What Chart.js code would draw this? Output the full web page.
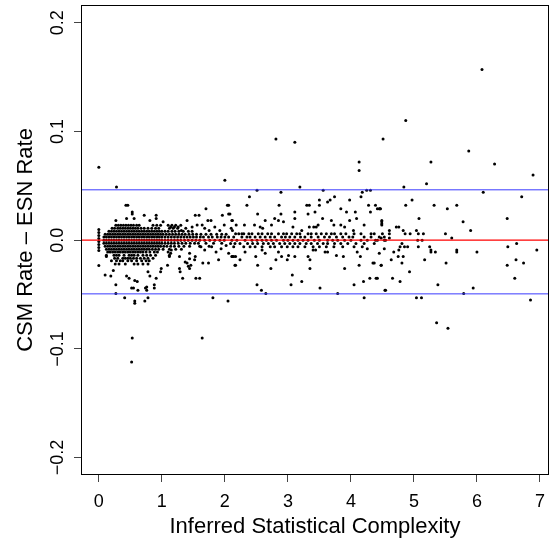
<!DOCTYPE html>
<html>
<head>
<meta charset="utf-8">
<script src="https://cdn.jsdelivr.net/npm/chart.js@4.4.0/dist/chart.umd.min.js"></script>
<style>
html, body { margin: 0; padding: 0; background: #fff; }
</style>
</head>
<body>
<canvas id="scatter" width="554" height="544"></canvas>
<script>
// 軸の目盛り
var xTicks = [0, 1, 2, 3, 4, 5, 6, 7];
var xTickLabels = ["0", "1", "2", "3", "4", "5", "6", "7"];
var yTicks = [-0.2, -0.1, 0, 0.1, 0.2];
var yTickLabels = ["\u22120.2", "\u22120.1", "0.0", "0.1", "0.2"];

// 基準線 (赤 = 0, 青 = 上限/下限)
var centerLine = 0;
var upperLimit = 0.0463;
var lowerLimit = -0.0494;

// x = 0 の列
var zeroColumn = [
    [0, 0.067], [0, 0.0098], [0, 0.0071], [0, 0.0043], [0, 0.0015], [0, -0.0012],
    [0, -0.0040], [0, -0.0067], [0, -0.0095], [0, -0.0233]
];

// 密集部分 (行ごと: y, xの並び)
var clusterRows = [
    [0.0138, [0.27, 0.31, 0.35, 0.39, 0.43, 0.47, 0.51, 0.55, 0.60, 0.64, 0.86, 0.92, 0.98, 1.10, 1.16, 1.22, 1.30]],
    [0.0110, [0.21, 0.25, 0.30, 0.34, 0.38, 0.42, 0.46, 0.50, 0.54, 0.58, 0.62, 0.67, 0.72, 0.78, 0.84, 0.90, 0.95, 1.12, 1.18, 1.25, 1.38]],
    [0.0083, [0.16, 0.20, 0.24, 0.28, 0.32, 0.36, 0.40, 0.44, 0.48, 0.52, 0.56, 0.60, 0.64, 0.68, 0.72, 0.76, 0.80, 0.84, 0.88, 0.92, 0.96, 1.00, 1.05, 1.10, 1.16, 1.21, 1.27, 1.34, 1.42, 1.48]],
    [0.0055, [0.10, 0.14, 0.18, 0.22, 0.26, 0.30, 0.34, 0.38, 0.42, 0.46, 0.50, 0.54, 0.58, 0.62, 0.66, 0.70, 0.74, 0.78, 0.82, 0.86, 0.90, 0.94, 0.98, 1.02, 1.07, 1.12, 1.17, 1.22, 1.27, 1.32, 1.37, 1.43, 1.49, 1.55, 1.62, 1.70, 1.78, 1.87, 1.95, 2.02]],
    [0.0028, [0.08, 0.12, 0.16, 0.20, 0.24, 0.28, 0.32, 0.36, 0.40, 0.44, 0.48, 0.52, 0.56, 0.60, 0.64, 0.68, 0.72, 0.76, 0.80, 0.84, 0.88, 0.92, 0.96, 1.00, 1.05, 1.10, 1.15, 1.20, 1.25, 1.30, 1.35, 1.40, 1.45, 1.50, 1.55, 1.61, 1.66, 1.74, 1.80, 1.88, 1.94, 2.00]],
    [0.0000, [0.08, 0.12, 0.16, 0.20, 0.24, 0.28, 0.32, 0.36, 0.40, 0.44, 0.48, 0.52, 0.56, 0.60, 0.64, 0.68, 0.72, 0.76, 0.80, 0.84, 0.88, 0.92, 0.96, 1.00, 1.05, 1.10, 1.15, 1.20, 1.25, 1.30, 1.36, 1.42, 1.48, 1.54, 1.60, 1.68, 1.76, 1.84, 1.92, 1.99]],
    [-0.0028, [0.08, 0.12, 0.16, 0.20, 0.24, 0.28, 0.32, 0.36, 0.40, 0.44, 0.48, 0.52, 0.56, 0.60, 0.64, 0.68, 0.72, 0.76, 0.80, 0.84, 0.88, 0.92, 0.96, 1.00, 1.05, 1.10, 1.15, 1.20, 1.26, 1.32, 1.38, 1.45, 1.52, 1.58, 1.70, 1.82, 1.95]],
    [-0.0055, [0.10, 0.14, 0.18, 0.22, 0.26, 0.30, 0.34, 0.38, 0.42, 0.46, 0.50, 0.54, 0.58, 0.62, 0.66, 0.70, 0.74, 0.78, 0.82, 0.86, 0.90, 0.94, 0.98, 1.03, 1.08, 1.14, 1.20, 1.27, 1.35, 1.44, 1.60, 1.75]],
    [-0.0083, [0.12, 0.16, 0.20, 0.24, 0.28, 0.32, 0.36, 0.40, 0.44, 0.48, 0.52, 0.56, 0.60, 0.64, 0.68, 0.72, 0.76, 0.80, 0.85, 0.90, 0.95, 1.02, 1.12, 1.22, 1.31]],
    [-0.0110, [0.14, 0.18, 0.22, 0.26, 0.30, 0.34, 0.38, 0.42, 0.46, 0.50, 0.54, 0.58, 0.62, 0.66, 0.70, 0.75, 0.81, 0.88, 0.93, 1.10]],
    [-0.0138, [0.12, 0.24, 0.28, 0.32, 0.40, 0.48, 0.52, 0.56, 0.62, 0.70, 0.76, 0.82, 0.90, 1.12]],
    [-0.0166, [0.25, 0.30, 0.38, 0.42, 0.46, 0.50, 0.55, 0.60, 0.66, 0.72, 0.78, 0.86]],
    [-0.0190, [0.20, 0.28, 0.34, 0.38, 0.46, 0.52, 0.60, 0.68, 0.75, 0.80]],
    [-0.0220, [0.26, 0.32, 0.42, 0.56, 0.62, 0.70, 0.78]]
];

// 密集部分の周り (x < 2.2)
var clusterEdge = [
    [0.28, 0.049], [0.43, 0.032], [0.46, 0.032], [0.53, 0.026], [0.53, 0.024], [0.27, 0.018], [0.44, 0.020],
    [0.56, 0.020], [0.72, 0.023], [0.81, 0.018], [0.91, 0.023], [0.91, 0.020], [1.02, 0.017], [1.40, 0.018],
    [1.53, 0.023], [1.59, 0.023], [1.70, 0.029], [1.73, 0.018], [1.78, 0.018], [1.96, 0.023], [2.04, 0.032],
    [2.08, 0.024], [2.12, 0.018], [2.18, 0.014], [1.14, 0.012], [1.20, 0.012], [1.26, 0.012], [1.31, 0.009],
    [1.64, 0.014], [2.00, 0.055], [1.48, 0.012], [1.56, 0.014], [1.68, 0.011], [1.75, 0.009], [1.84, 0.012],
    [1.92, 0.009], [1.99, 0.014], [2.10, 0.011],
    [1.62, -0.006], [1.68, -0.009], [1.79, -0.006], [1.86, -0.011], [1.94, -0.008], [2.02, -0.005],
    [0.12, -0.015], [0.10, -0.032], [0.19, -0.033], [0.27, -0.041], [0.27, -0.049], [0.44, -0.033], [0.48, -0.035],
    [0.52, -0.044], [0.55, -0.044], [0.61, -0.038], [0.62, -0.046], [0.74, -0.044], [0.76, -0.046], [0.88, -0.041],
    [0.88, -0.044], [0.78, -0.029], [0.81, -0.033], [0.98, -0.029], [0.91, -0.035], [1.09, -0.023], [1.12, -0.015],
    [1.28, -0.026], [1.29, -0.029], [1.33, -0.035], [1.40, -0.021], [1.42, -0.024], [1.44, -0.026], [1.54, -0.035],
    [1.60, -0.035], [1.53, -0.015], [1.65, -0.021], [1.74, -0.021], [1.90, -0.018], [2.06, -0.012], [2.16, -0.023],
    [2.12, -0.015], [2.14, -0.015], [0.23, -0.028], [0.57, -0.037], [0.99, -0.026], [1.15, -0.009], [1.14, -0.012],
    [1.28, -0.015], [1.37, -0.020], [1.44, -0.017], [1.44, -0.012], [1.52, -0.018], [1.46, -0.023], [0.76, -0.043],
    [0.41, -0.053], [0.57, -0.058], [0.57, -0.056], [0.73, -0.056], [0.78, -0.053], [1.81, -0.053], [2.05, -0.056],
    [0.53, -0.090], [0.52, -0.112], [1.64, -0.090]
];

// 中間部分 (2 < x < 4.6)
var middleSpread = [
    [2.81, 0.093], [3.11, 0.090], [4.51, 0.093], [4.13, 0.072], [4.13, 0.064], [3.19, 0.049], [2.51, 0.046],
    [3.56, 0.046], [2.89, 0.044], [4.25, 0.046], [4.31, 0.046], [4.18, 0.044], [4.16, 0.040], [2.39, 0.040],
    [3.74, 0.040], [3.67, 0.037], [3.63, 0.035], [3.50, 0.037], [3.98, 0.037],
    [2.06, 0.032], [2.35, 0.032], [2.86, 0.032], [3.30, 0.032], [3.34, 0.032], [3.50, 0.032], [4.28, 0.032],
    [4.39, 0.032], [3.84, 0.029], [4.45, 0.029], [4.47, 0.029], [4.07, 0.026], [3.93, 0.026], [2.06, 0.024],
    [2.52, 0.024], [2.89, 0.024], [3.11, 0.026], [3.43, 0.026], [3.11, 0.020], [3.32, 0.024], [2.79, 0.020],
    [2.64, 0.018], [2.85, 0.018], [3.55, 0.020], [3.98, 0.018], [4.09, 0.020], [4.31, 0.026], [4.49, 0.018],
    [4.49, 0.015], [2.11, 0.018], [2.47, 0.014], [2.31, 0.014],
    [2.56, 0.012], [2.60, 0.011], [2.74, 0.014], [2.93, 0.017], [3.08, 0.012], [3.22, 0.009], [3.34, 0.012],
    [3.41, 0.012], [3.45, 0.012], [3.48, 0.014], [3.69, 0.018], [3.73, 0.014], [3.84, 0.014], [3.90, 0.012],
    [4.04, 0.009], [4.21, 0.014], [2.12, 0.009], [2.27, 0.006],
    [2.17, 0.006], [2.22, 0.006], [2.30, 0.006], [2.38, 0.006], [2.43, 0.006], [2.53, 0.006], [2.59, 0.006],
    [2.68, 0.006], [2.74, 0.006], [2.85, 0.006], [2.93, 0.006], [2.98, 0.006], [3.06, 0.006], [3.14, 0.006],
    [3.19, 0.006], [3.32, 0.006], [3.37, 0.006], [3.45, 0.006], [3.53, 0.006], [3.61, 0.006], [3.69, 0.006],
    [3.74, 0.006], [3.84, 0.006], [3.92, 0.006], [4.05, 0.006], [4.16, 0.006], [4.32, 0.006], [4.37, 0.006],
    [4.50, 0.006],
    [2.06, 0.003], [2.14, 0.003], [2.27, 0.003], [2.35, 0.003], [2.40, 0.003], [2.48, 0.003], [2.56, 0.003],
    [2.64, 0.003], [2.72, 0.003], [2.79, 0.003], [2.90, 0.003], [2.96, 0.003], [3.03, 0.003], [3.11, 0.003],
    [3.20, 0.003], [3.27, 0.003], [3.37, 0.003], [3.48, 0.003], [3.58, 0.003], [3.66, 0.003], [3.77, 0.003],
    [3.87, 0.003], [3.97, 0.003], [4.03, 0.003], [4.21, 0.003], [4.32, 0.003], [4.45, 0.003], [4.53, 0.003],
    [2.11, 0], [2.19, 0], [2.32, 0], [2.43, 0], [2.51, 0], [2.59, 0], [2.66, 0], [2.74, 0], [2.82, 0],
    [2.93, 0], [3.00, 0], [3.08, 0], [3.16, 0], [3.24, 0], [3.32, 0], [3.42, 0], [3.50, 0], [3.63, 0],
    [3.71, 0], [3.79, 0], [3.90, 0], [4.00, 0], [4.16, 0], [4.26, 0], [4.39, 0], [4.53, 0],
    [2.09, -0.003], [2.16, -0.003], [2.24, -0.003], [2.36, -0.003], [2.44, -0.003], [2.52, -0.003], [2.61, -0.003],
    [2.69, -0.003], [2.77, -0.003], [2.87, -0.003], [2.95, -0.003], [3.03, -0.003], [3.11, -0.003], [3.19, -0.003],
    [3.29, -0.003], [3.37, -0.003], [3.47, -0.003], [3.56, -0.003], [3.63, -0.003], [3.74, -0.003], [3.84, -0.003],
    [3.95, -0.003], [4.08, -0.003], [4.21, -0.003], [4.37, -0.003],
    [2.14, -0.006], [2.30, -0.006], [2.40, -0.006], [2.48, -0.006], [2.59, -0.006], [2.72, -0.006], [2.79, -0.006],
    [2.90, -0.006], [2.99, -0.006], [3.08, -0.006], [3.16, -0.006], [3.27, -0.006], [3.40, -0.006], [3.50, -0.006],
    [3.61, -0.006], [3.73, -0.006], [3.87, -0.006], [4.05, -0.006], [4.18, -0.006],
    [2.11, -0.015], [2.17, -0.015], [2.24, -0.018], [2.32, -0.011], [2.49, -0.015], [2.52, -0.023], [2.59, -0.009],
    [2.64, -0.012], [2.81, -0.018], [2.85, -0.011], [2.90, -0.015], [2.99, -0.018], [3.01, -0.014], [3.11, -0.015],
    [3.32, -0.015], [3.35, -0.018], [3.44, -0.009], [3.40, -0.009], [3.59, -0.011], [3.63, -0.011], [3.77, -0.014],
    [3.88, -0.015], [4.10, -0.011], [4.15, -0.015], [4.26, -0.008], [4.37, -0.021], [4.45, -0.012], [4.53, -0.008],
    [2.51, -0.041], [2.58, -0.046], [2.65, -0.049], [3.05, -0.041], [3.07, -0.032], [3.22, -0.038], [3.51, -0.044],
    [3.79, -0.049], [4.05, -0.041], [4.21, -0.053], [4.20, -0.038], [4.30, -0.035], [4.40, -0.035], [4.54, -0.046],
    [2.73, -0.026], [2.17, -0.023], [3.35, -0.026], [3.90, -0.026], [4.13, -0.023], [4.35, -0.021], [4.48, -0.023]
];

// 右側 (x > 4.4)
var rightSpread = [
    [6.08, 0.157], [4.87, 0.110], [5.87, 0.082], [5.27, 0.072], [6.28, 0.070], [6.89, 0.060], [4.84, 0.049],
    [5.20, 0.052], [6.10, 0.044], [6.71, 0.040], [4.97, 0.037], [4.87, 0.032], [5.32, 0.032], [5.53, 0.029],
    [5.68, 0.032], [4.42, 0.029], [4.46, 0.029], [4.49, 0.017], [4.49, 0.014], [5.08, 0.020], [5.78, 0.017],
    [5.90, 0.009], [6.48, 0.020], [4.72, 0.012], [4.76, 0.012], [4.61, 0.009], [4.61, 0.006], [4.61, 0.002],
    [4.48, 0.002], [4.83, 0.009], [4.86, 0.006], [4.94, 0.006], [5.04, 0.009], [5.07, 0.006], [5.15, 0.006],
    [5.50, 0.006], [5.60, 0.002], [4.42, 0], [4.55, 0], [5.06, 0], [5.13, 0], [4.81, -0.003], [4.78, -0.006],
    [4.85, -0.006], [4.90, -0.006], [4.76, -0.009], [5.07, -0.006], [5.25, -0.006], [5.27, -0.009], [5.27, -0.011],
    [5.34, -0.011], [5.68, -0.009], [5.68, -0.011], [6.00, -0.011], [6.49, -0.006], [6.63, -0.003], [6.95, -0.009],
    [4.68, -0.011], [4.64, -0.018], [4.75, -0.015], [4.83, -0.015], [4.81, -0.021], [5.17, -0.018], [5.51, -0.021],
    [6.62, -0.018], [6.74, -0.021], [6.48, -0.023], [4.48, -0.023], [4.93, -0.029], [4.42, -0.035], [4.66, -0.035],
    [4.78, -0.038], [6.60, -0.035], [5.38, -0.041], [5.94, -0.044], [4.55, -0.046], [5.79, -0.049], [5.04, -0.053],
    [5.12, -0.053], [6.85, -0.055], [5.36, -0.076], [5.54, -0.081]
];

// 軸の範囲
var xMin = -0.283, xMax = 7.142;
var yMin = -0.216, yMax = 0.2163;

// 散布図の点をまとめる
var points = [];
zeroColumn.concat(clusterEdge, middleSpread, rightSpread).forEach(function (p) {
    points.push({ x: p[0], y: p[1] });
});
clusterRows.forEach(function (row) {
    row[1].forEach(function (x) {
        points.push({ x: x, y: row[0] });
    });
});

function hLine(v) {
    return [{ x: xMin, y: v }, { x: xMax, y: v }];
}

var FONT = "'Liberation Sans', Arial, Helvetica, sans-serif";

// 枠と縦軸の目盛りラベル (Rのように回転)
var framePlugin = {
    id: 'frame',
    afterDraw: function (chart) {
        var ctx = chart.ctx;
        var a = chart.chartArea;
        ctx.save();
        ctx.strokeStyle = '#000';
        ctx.lineWidth = 1;
        ctx.strokeRect(Math.round(a.left) + 0.5, Math.round(a.top) + 0.5,
            Math.round(a.right - a.left) - 1, Math.round(a.bottom - a.top) - 1);
        var ys = chart.scales.y;
        ctx.fillStyle = '#000';
        ctx.font = '18px ' + FONT;
        ctx.textAlign = 'center';
        ctx.textBaseline = 'middle';
        yTicks.forEach(function (v, i) {
            ctx.save();
            ctx.translate(58, ys.getPixelForValue(v));
            ctx.rotate(-Math.PI / 2);
            ctx.fillText(yTickLabels[i], 0, 0);
            ctx.restore();
        });
        ctx.restore();
    }
};

var ctx = document.getElementById("scatter");
var chart = new Chart(ctx, {
    type: 'scatter',
    data: {
        datasets: [
            {
                type: 'line',
                data: hLine(centerLine),
                borderColor: '#ff0000',
                borderWidth: 1.2,
                pointRadius: 0,
                order: 0
            },
            {
                type: 'line',
                data: hLine(upperLimit),
                borderColor: '#3a3aff',
                borderWidth: 1,
                pointRadius: 0,
                order: 0
            },
            {
                type: 'line',
                data: hLine(lowerLimit),
                borderColor: '#3a3aff',
                borderWidth: 1,
                pointRadius: 0,
                order: 0
            },
            {
                data: points,
                backgroundColor: '#000',
                borderWidth: 0,
                pointRadius: 1.5,
                pointHoverRadius: 1.5,
                order: 1
            }
        ]
    },
    options: {
        responsive: false,
        animation: false,
        events: [],
        layout: { padding: { top: 5, right: 1, left: 0, bottom: 0 } },
        plugins: { legend: { display: false }, tooltip: { enabled: false } },
        scales: {
            x: {
                type: 'linear',
                min: xMin,
                max: xMax,
                afterBuildTicks: function (s) { s.ticks = xTicks.map(function (v) { return { value: v }; }); },
                afterFit: function (s) { s.height = 69; },
                border: { display: false },
                grid: { drawOnChartArea: false, drawTicks: true, tickLength: 7, color: '#444', lineWidth: 1 },
                ticks: {
                    color: '#000',
                    font: { family: FONT, size: 18 },
                    padding: 9,
                    maxRotation: 0,
                    autoSkip: false,
                    callback: function (v) { return xTickLabels[xTicks.indexOf(v)]; }
                },
                title: {
                    display: true,
                    text: 'Inferred Statistical Complexity',
                    color: '#000',
                    font: { family: FONT, size: 22 },
                    padding: { top: 0, bottom: 4 }
                }
            },
            y: {
                type: 'linear',
                min: yMin,
                max: yMax,
                afterBuildTicks: function (s) { s.ticks = yTicks.map(function (v) { return { value: v }; }); },
                afterFit: function (s) { s.width = 81; },
                border: { display: false },
                grid: { drawOnChartArea: false, drawTicks: true, tickLength: 7, color: '#444', lineWidth: 1 },
                ticks: { display: false },
                title: {
                    display: true,
                    text: 'CSM Rate \u2013 ESN Rate',
                    color: '#000',
                    font: { family: FONT, size: 22 },
                    padding: { top: 13, bottom: 0 }
                }
            }
        }
    },
    plugins: [framePlugin]
});
</script>
</body>
</html>
